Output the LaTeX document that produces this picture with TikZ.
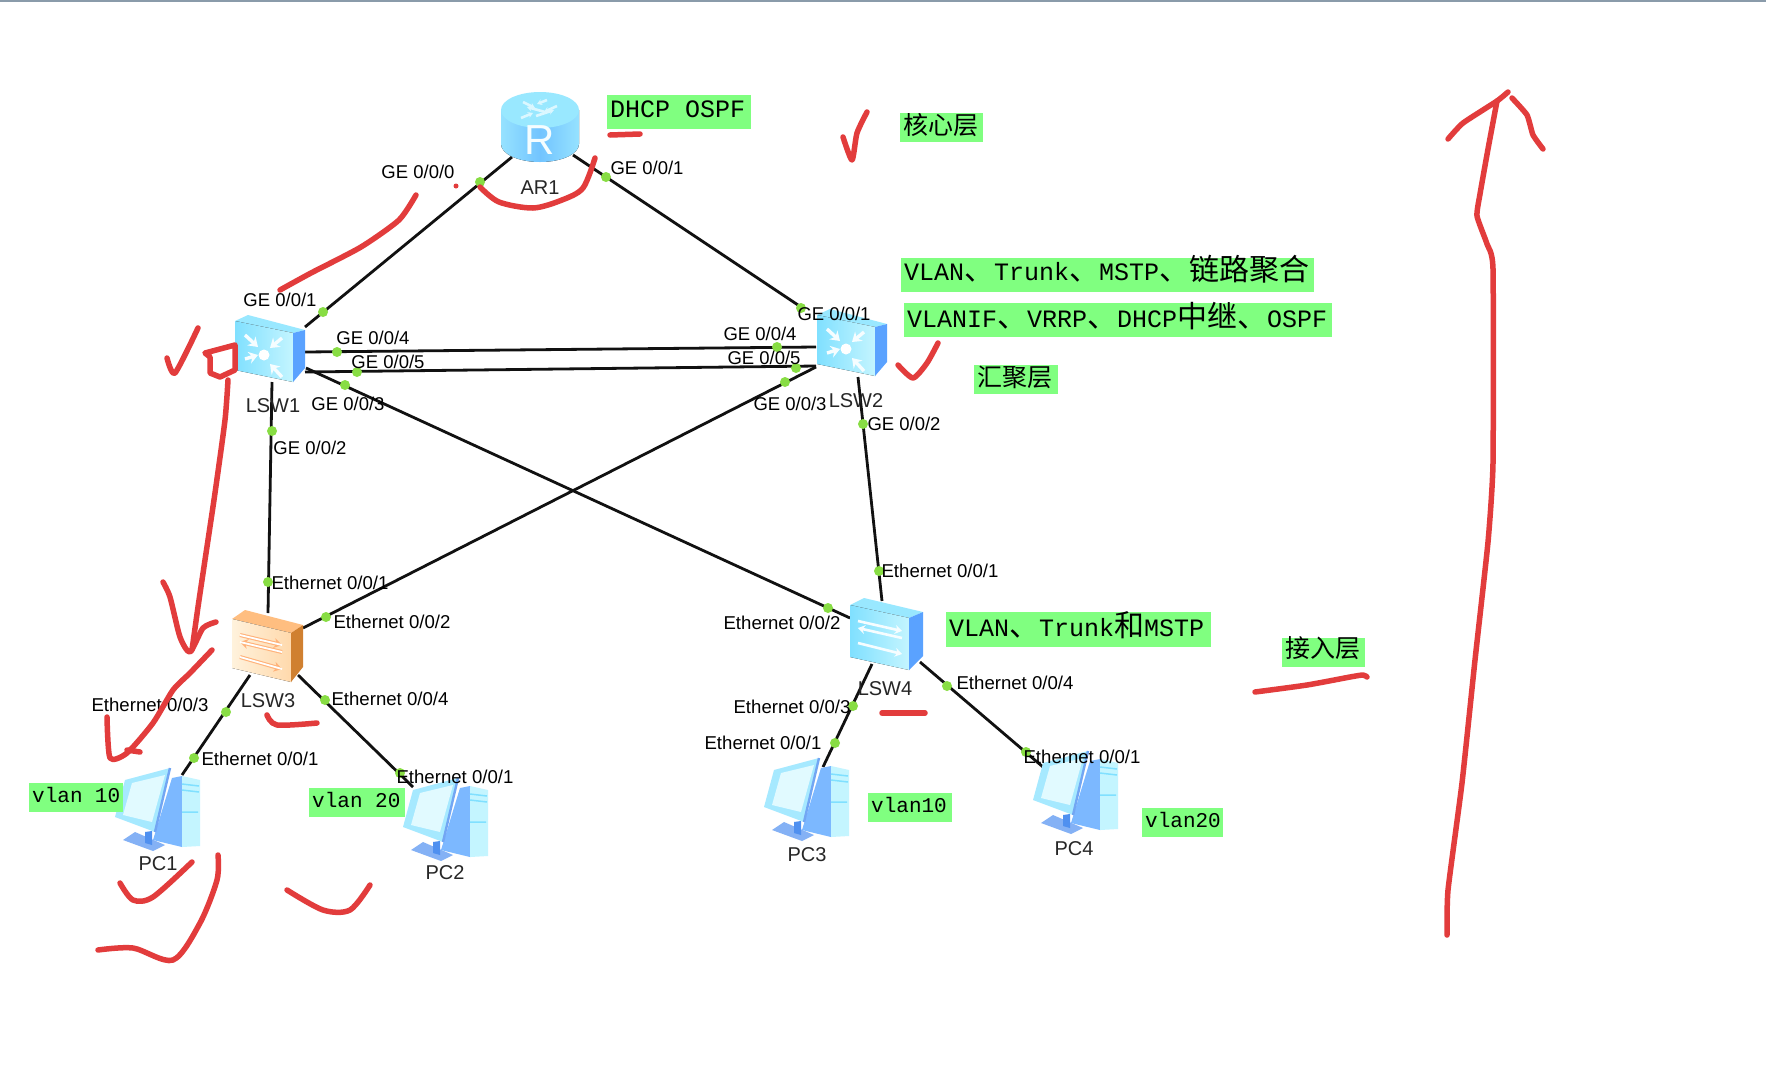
\documentclass[tikz,border=0pt]{standalone}
\usepackage{fontspec}
\setmainfont{Liberation Sans}
\newfontfamily\cjkf{Noto Sans CJK SC}
\newfontfamily\monof{Liberation Mono}
\usetikzlibrary{arrows.meta}
\definecolor{ink}{HTML}{E23C3C}
\definecolor{hl}{HTML}{80FF80}
\definecolor{port}{HTML}{88DD44}
\definecolor{wire}{HTML}{111111}
\definecolor{topbar}{HTML}{8A9BAA}
\definecolor{iconTop}{HTML}{99E8FF}
\definecolor{iconFrontA}{HTML}{80E0FF}
\definecolor{iconFrontB}{HTML}{C4F5FF}
\definecolor{iconSide}{HTML}{5AA2FF}
\definecolor{orgTop}{HTML}{FFBE80}
\definecolor{orgFrontA}{HTML}{FFF2DC}
\definecolor{orgFrontB}{HTML}{FFD9AC}
\definecolor{orgSide}{HTML}{D08030}
\definecolor{orgStripe}{HTML}{FFB27A}
\definecolor{rtBody}{HTML}{72C4FF}
\definecolor{rtEdge}{HTML}{96E2FF}
\definecolor{pcTower}{HTML}{7CB8FF}
\definecolor{pcBlue}{HTML}{4F90F0}
\newcommand{\szf}[1]{\fontsize{#1}{#1}\selectfont}
\newcommand{\mtxt}[1]{{\monof\szf{25}#1}}
\newcommand{\ctxt}[1]{{\cjkf\szf{30}#1}}
\newcommand{\cstxt}[1]{{\cjkf\szf{25}#1}}
\newcommand{\gbox}[7]{%
  \pgfmathsetmacro{\gbw}{#4-#2}\pgfmathsetmacro{\gbh}{#5-#3}%
  \pgfmathsetmacro{\gbu}{10+#6}\pgfmathsetmacro{\gbd}{10-#6}%
  \node (#1) [hlbox, anchor=north west, text width=\gbw pt-6pt, minimum height=\gbh pt, text height=\gbu pt, text depth=\gbd pt] at (#2,#3) {#7};}
\newcommand{\linkab}[6]{\draw[wireline] ([shift={(#2,#3)}]#1.center) -- ([shift={(#5,#6)}]#4.center);}
\tikzset{
  device/.style={inner sep=0pt, outer sep=0pt, minimum width=72pt, minimum height=70pt},
  wireline/.style={draw=wire, line width=2.8pt},
  portdot/.style={circle, fill=port, inner sep=0pt, minimum size=10pt},
  gelabel/.style={inner sep=0pt, font=\szf{18.5}},
  ethlabel/.style={inner sep=0pt, font=\szf{18.6}},
  devlabel/.style={inner sep=0pt, font=\szf{20}, text=black!85},
  hlbox/.style={fill=hl, inner xsep=3pt, inner ysep=0pt, align=flush left},
  inkline/.style={draw=ink, line width=5.5pt, line cap=round, line join=round},
  routericon/.pic={
    \fill[left color=rtEdge, right color=rtEdge, middle color=rtBody] (-39,-17) -- (-39,17) arc[start angle=180,end angle=0,x radius=39,y radius=18] -- (39,-17) -- cycle;
    \fill[iconTop] (0,-17) ellipse[x radius=39, y radius=18];
    \foreach \a/\b/\c/\d in {-17/-25/-5/-19, 5/-15/-13/-20, 17/-21/4/-15, -4/-11/14/-17, -19/-9/-7/-14, 7/-27/-3/-23}
      \draw[white!65!iconTop, line width=2.6pt, -{Stealth[length=5pt,width=6pt]}] (\a,\b) -- (\c,\d);
    \node[text=white!90!iconTop, inner sep=0pt, font=\szf{42}] at (0,13) {R};
  },
  l3switch/.pic={
    \fill[iconTop] (-35,-29) -- (-22,-35) -- (35,-20) -- (23,-17) -- cycle;
    \fill[left color=iconFrontA, right color=iconFrontB] (-35,-29) -- (23,-17) -- (23,32) -- (-35,20) -- cycle;
    \fill[iconSide] (23,-17) -- (35,-20) -- (35,18) -- (23,32) -- cycle;
    \fill[white] (-6,5) circle[radius=5.5];
    \foreach \a/\b/\c/\d in {-25/-15/-12/-3, 12/-12/0/-2, -25/9/-12/5, 12/27/0/14}
      \draw[white!85!iconFrontB, line width=3.4pt, -{Stealth[length=9pt,width=12pt]}] (\a,\b) -- (\c,\d);
  },
  l2blue/.pic={
    \fill[iconTop] (-36,-29) -- (-22,-36) -- (37,-22) -- (23,-16) -- cycle;
    \fill[left color=iconFrontA, right color=iconFrontB] (-36,-29) -- (23,-16) -- (23,36) -- (-36,23) -- cycle;
    \fill[iconSide] (23,-16) -- (37,-22) -- (37,22) -- (23,36) -- cycle;
    \foreach \a/\b/\c/\d in {-28/-13/16/-3, 16/4/-28/-6, -28/9/16/20}
      \draw[white!85!iconFrontB, line width=2.6pt, -{Stealth[length=7pt,width=9pt]}] (\a,\b) -- (\c,\d);
  },
  l2orange/.pic={
    \fill[orgTop] (-35,-27) -- (-22,-36) -- (36,-21) -- (24,-13) -- cycle;
    \fill[left color=orgFrontA, right color=orgFrontB] (-35,-27) -- (24,-13) -- (24,36) -- (-35,22) -- cycle;
    \fill[orgSide] (24,-13) -- (36,-21) -- (36,21) -- (24,36) -- cycle;
    \foreach \a/\b/\c/\d in {-27/-11/15/-1, 15/6/-27/-4, -27/11/15/23} {
      \draw[orgStripe, line width=4pt, -{Stealth[length=8pt,width=10pt]}] (\a,\b) -- (\c,\d);
      \draw[white, line width=1.8pt] (\a,\b) -- (\c,\d);
    }
  },
  pcicon/.pic={
    \fill[pcBlue!70!white] (-34,30) -- (-22,22) -- (8,35) -- (-4,41) -- cycle;
    \fill[pcBlue] (-12,22) -- (-5,21) -- (-5,35) -- (-12,33) -- cycle;
    \fill[pcTower] (15,-32) -- (25,-34) -- (25,37) -- (-4,30) -- cycle;
    \fill[iconFrontB] (25,-34) -- (43,-30) -- (43,36) -- (25,37) -- cycle;
    \draw[iconFrontA, line width=1.5pt] (25,-26) -- (42,-24) (25,-20) -- (42,-18) (25,2) -- (41,2);
    \fill[iconFrontA!70!white] (-42,7) -- (-32,-30) -- (13,-42) -- (-2,22) -- cycle;
    \fill[iconFrontB!50!white] (-34,5) -- (-25,-27) -- (8,-35) -- (-5,12) -- cycle;
    \draw[pcBlue!80!white, line width=2.4pt] (13,-42) -- (-2,22);
  },
}
\begin{document}
\begin{tikzpicture}[x=1pt,y=-1pt]
\path[use as bounding box] (0,0) rectangle (1766,1074);
\fill[white] (0,0) rectangle (1766,1074);
\fill[topbar] (0,0) rectangle (1766,1.5);

% devices
\node (ar1)  [device] at (540,127) {};
\node (lsw1) [device] at (270,350) {};
\node (lsw2) [device] at (852,344) {};
\node (lsw3) [device] at (267,646) {};
\node (lsw4) [device] at (886,634) {};
\node (pc1)  [device] at (157,810) {};
\node (pc2)  [device] at (445,820) {};
\node (pc3)  [device] at (806,800) {};
\node (pc4)  [device] at (1075,793) {};

% connectors
\linkab{ar1}{-28}{30}{lsw1}{35}{-23}
\linkab{ar1}{33}{28}{lsw2}{-51}{-37}
\linkab{lsw1}{35}{2}{lsw2}{-36}{3}
\linkab{lsw1}{35}{22}{lsw2}{-36}{22}
\linkab{lsw1}{36}{18}{lsw4}{-36}{-16}
\linkab{lsw2}{-36}{23}{lsw3}{36}{-18}
\linkab{lsw1}{2}{32}{lsw3}{1}{-33}
\linkab{lsw2}{6}{33}{lsw4}{-4}{-33}
\linkab{lsw3}{-17}{29}{pc1}{25}{-35}
\linkab{lsw3}{31}{29}{pc2}{-32}{-33}
\linkab{lsw4}{-14}{30}{pc3}{17}{-33}
\linkab{lsw4}{34}{28}{pc4}{-32}{-26}

% icons
\pic at (ar1) {routericon};
\pic at (lsw1) {l3switch};
\pic at (lsw2) {l3switch};
\pic at (lsw3) {l2orange};
\pic at (lsw4) {l2blue};
\pic at (pc1) {pcicon};
\pic at (pc2) {pcicon};
\pic at (pc3) {pcicon};
\pic at (pc4) {pcicon};

% port dots
\foreach \n/\x/\y in {d1/480/182, d2/323/312, d3/606/177, d4/801/308, d5/337/352, d6/777/347, d7/357/372, d8/796/368,
  d9/345/385, d10/828/608, d11/785/382, d12/326/617, d13/272/431, d14/268/582, d15/863/424, d16/879/571,
  d17/226/712, d18/194/758, d19/325/700, d20/400/773, d21/853/706, d22/835/743, d23/947/686, d24/1026/752}
  \node (\n) [portdot] at (\x,\y) {};

% port labels
\node (l1) [gelabel] at (418,172) {GE 0/0/0};
\node (l2) [gelabel] at (647,168) {GE 0/0/1};
\node (l3) [gelabel] at (280,300) {GE 0/0/1};
\node (l4) [gelabel] at (373,338) {GE 0/0/4};
\node (l5) [gelabel] at (388,362) {GE 0/0/5};
\node (l6) [gelabel] at (348,404) {GE 0/0/3};
\node (l7) [gelabel] at (310,448) {GE 0/0/2};
\node (l8) [gelabel] at (834,314) {GE 0/0/1};
\node (l9) [gelabel] at (760,334) {GE 0/0/4};
\node (l10) [gelabel] at (764,358) {GE 0/0/5};
\node (l11) [gelabel] at (790,404) {GE 0/0/3};
\node (l12) [gelabel] at (904,424) {GE 0/0/2};
\node (e1) [ethlabel] at (330,583) {Ethernet 0/0/1};
\node (e2) [ethlabel] at (392,622) {Ethernet 0/0/2};
\node (e3) [ethlabel] at (150,705) {Ethernet 0/0/3};
\node (e4) [ethlabel] at (390,699) {Ethernet 0/0/4};
\node (e5) [ethlabel] at (260,759) {Ethernet 0/0/1};
\node (e6) [ethlabel] at (455,777) {Ethernet 0/0/1};
\node (e7) [ethlabel] at (940,571) {Ethernet 0/0/1};
\node (e8) [ethlabel] at (782,623) {Ethernet 0/0/2};
\node (e9) [ethlabel] at (1015,683) {Ethernet 0/0/4};
\node (e10) [ethlabel] at (792,707) {Ethernet 0/0/3};
\node (e11) [ethlabel] at (763,743) {Ethernet 0/0/1};
\node (e12) [ethlabel] at (1082,757) {Ethernet 0/0/1};

% device labels
\node (t1) [devlabel] at (540,188) {AR1};
\node (t2) [devlabel] at (273,406) {LSW1};
\node (t3) [devlabel] at (856,401) {LSW2};
\node (t4) [devlabel] at (268,701) {LSW3};
\node (t5) [devlabel] at (885,689) {LSW4};
\node (t6) [devlabel] at (158,864) {PC1};
\node (t7) [devlabel] at (445,873) {PC2};
\node (t8) [devlabel] at (807,855) {PC3};
\node (t9) [devlabel] at (1074,849) {PC4};

% highlighted notes
\gbox{g1}{607}{95}{751}{129}{5}{\mtxt{DHCP OSPF}}
\gbox{g2}{900}{113}{983}{142}{7}{\cstxt{核心层}}
\gbox{g3}{901}{258}{1314}{292}{5}{\mtxt{VLAN}\ctxt{、}\mtxt{Trunk}\ctxt{、}\mtxt{MSTP}\ctxt{、链路聚合}}
\gbox{g4}{904}{303}{1332}{337}{7}{\mtxt{VLANIF}\ctxt{、}\mtxt{VRRP}\ctxt{、}\mtxt{DHCP}\ctxt{中继、}\mtxt{OSPF}}
\gbox{g5}{974}{365}{1058}{394}{6.5}{\cstxt{汇聚层}}
\gbox{g6}{946}{612}{1211}{647}{6.5}{\mtxt{VLAN}\ctxt{、}\mtxt{Trunk}\ctxt{和}\mtxt{MSTP}}
\gbox{g7}{1282}{638}{1365}{667}{5}{\cstxt{接入层}}
\gbox{g8}{29}{783}{123}{812}{4.5}{{\monof\szf{21}vlan 10}}
\gbox{g9}{309}{788}{405}{817}{4.5}{{\monof\szf{21}vlan 20}}
\gbox{g10}{868}{793}{952}{822}{4.5}{{\monof\szf{21}vlan10}}
\gbox{g11}{1142}{808}{1223}{837}{4.5}{{\monof\szf{21}vlan20}}

% red hand-drawn marks
\draw[inkline] plot[smooth,tension=.4] coordinates {(610,135) (640,134)};
\draw[inkline] plot[smooth,tension=.5] coordinates {(480,187) (499,202) (533,208) (562,200) (583,188) (595,158)};
\draw[inkline] plot[smooth,tension=.4] coordinates {(416,195) (399,220) (361,247) (311,273) (280,290)};
\fill[ink] (456,186) circle[radius=2.5];
\draw[inkline] plot[smooth,tension=.4] coordinates {(867,112) (857,133) (852,160) (843,137)};
\draw[inkline] plot[smooth,tension=.4] coordinates {(938,343) (927,363) (913,378) (898,365)};
\draw[inkline] plot[smooth,tension=.4] coordinates {(198,328) (175,373) (167,358)};
\draw[inkline] (205,353) -- (235,345) -- (235,370) -- (220,377) -- (210,373) -- (210,357) -- cycle;
\draw[inkline] plot[smooth,tension=.4] coordinates {(228,380) (225,420) (215,493) (205,560) (198,607) (192,650)};
\draw[inkline] plot[smooth,tension=.4] coordinates {(163,582) (170,597) (180,637) (190,652) (203,628) (216,622)};
\draw[inkline] plot[smooth,tension=.4] coordinates {(212,650) (190,673) (173,690) (153,723) (127,753) (110,758) (107,717)};
\draw[inkline] (127,750) -- (140,752);
\draw[inkline] plot[smooth,tension=.5] coordinates {(267,715) (277,725) (317,723)};
\draw[inkline] (882,713) -- (925,713);
\draw[inkline] plot[smooth,tension=.5] coordinates {(120,883) (133,900) (153,897) (192,862)};
\draw[inkline] plot[smooth,tension=.5] coordinates {(218,855) (217,880) (200,923) (173,960) (133,948) (98,950)};
\draw[inkline] plot[smooth,tension=.5] coordinates {(287,890) (323,910) (350,910) (370,885)};
\draw[inkline] plot[smooth,tension=.4] coordinates {(1255,692) (1307,685) (1350,677) (1363,675) (1367,677)};
\draw[inkline] plot[smooth,tension=.3] coordinates {(1497,101) (1488,149) (1480,194) (1477,216) (1487,244) (1493,269) (1493,463) (1488,542) (1475,660) (1462,783) (1448,890) (1447,935)};
\draw[inkline] plot[smooth,tension=.3] coordinates {(1448,139) (1463,123) (1497,101) (1508,92)};
\draw[inkline] plot[smooth,tension=.3] coordinates {(1512,98) (1527,115) (1533,135) (1543,149)};
\end{tikzpicture}
\end{document}
